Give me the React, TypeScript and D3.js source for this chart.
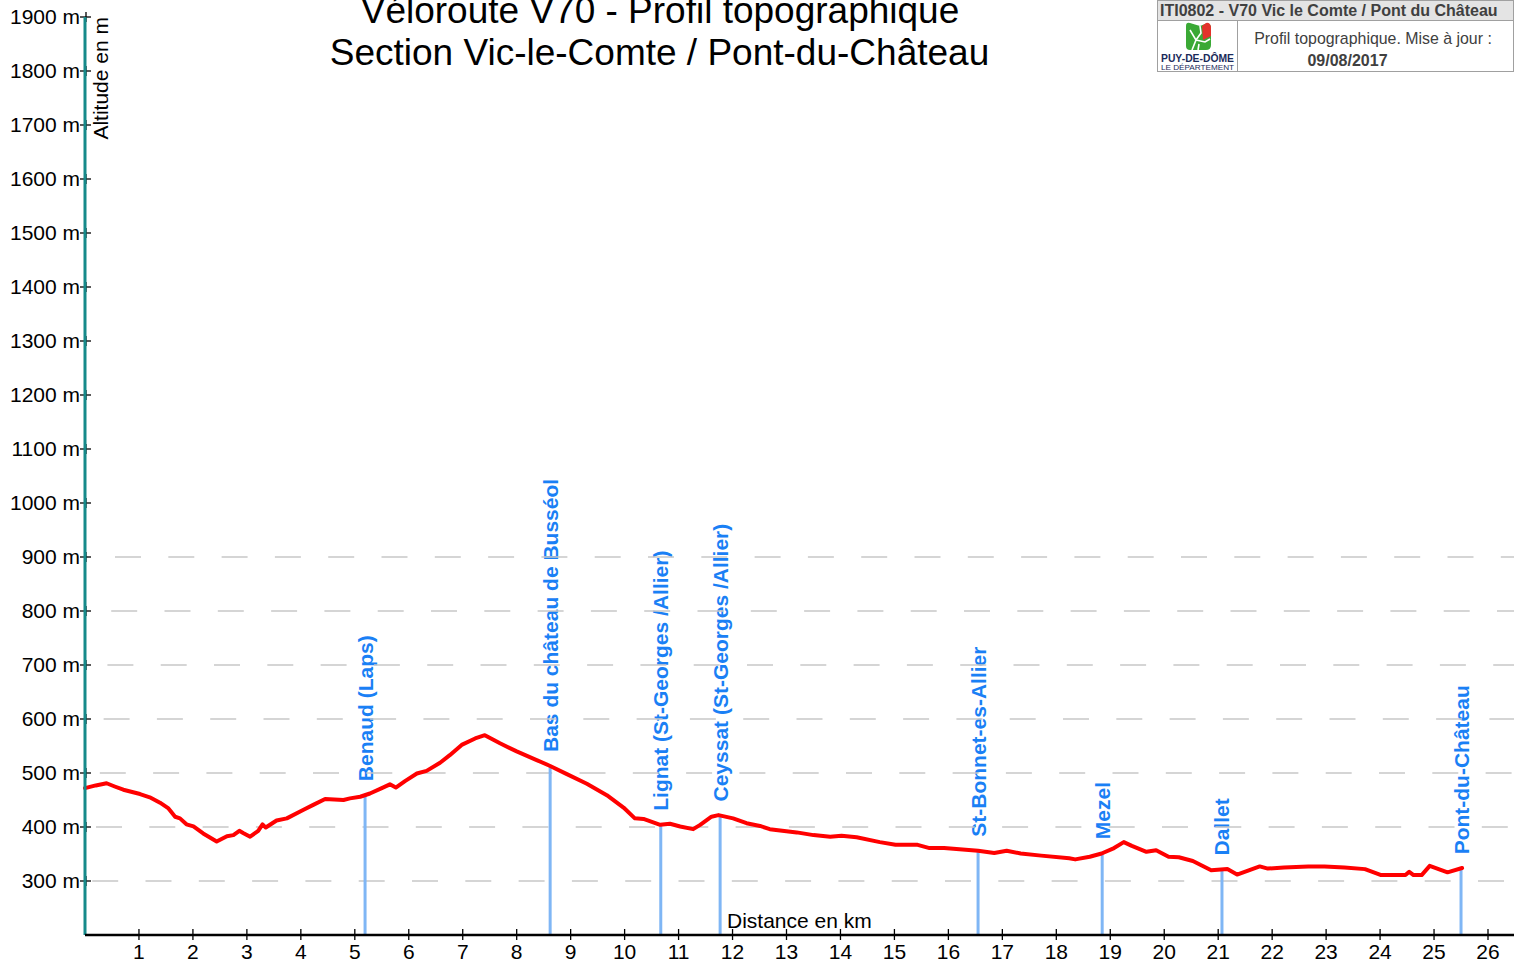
import React from "react";
import * as d3 from "d3";

const TITLE_LINE1 = "Véloroute V70 - Profil topographique";
const TITLE_LINE2 = "Section Vic-le-Comte / Pont-du-Château";
const HEADER_CODE = "ITI0802 - V70 Vic le Comte / Pont du Château";
const HEADER_TEXT = "Profil topographique. Mise à jour :";
const HEADER_DATE = "09/08/2017";

const distanceKm = [
  0.0, 0.2, 0.4, 0.55, 0.71, 1.02, 1.2, 1.39, 1.54, 1.67, 1.76, 1.88, 2.01, 2.19, 2.44, 2.63,
  2.75, 2.86, 2.93, 3.06, 3.21, 3.29, 3.35, 3.55, 3.74, 4.05, 4.23, 4.45, 4.79, 4.91, 5.1,
  5.28, 5.5, 5.65, 5.76, 5.93, 6.15, 6.33, 6.58, 6.76, 6.98, 7.23, 7.41, 7.69, 8.0, 8.37,
  8.62, 8.93, 9.3, 9.67, 9.98, 10.19, 10.35, 10.66, 10.84, 11.03, 11.27, 11.4, 11.61, 11.74,
  12.01, 12.26, 12.51, 12.69, 13.19, 13.5, 13.81, 14.02, 14.3, 14.73, 15.02, 15.43, 15.65,
  15.92, 16.55, 16.85, 17.08, 17.34, 17.72, 18.24, 18.35, 18.62, 18.84, 19.07, 19.25, 19.4,
  19.67, 19.85, 20.08, 20.27, 20.53, 20.87, 21.17, 21.35, 21.77, 21.92, 22.22, 22.67, 22.97,
  23.34, 23.72, 24.02, 24.47, 24.54, 24.62, 24.77, 24.92, 25.25, 25.52,
];
const altitudeM = [
  472, 477, 481, 475, 469, 461, 455, 445, 435, 419, 416, 405, 401, 388, 373, 383,
  385, 393, 389, 382, 393, 405, 399, 412, 416, 432, 441, 452, 450, 453, 456,
  462, 472, 479, 473, 485, 499, 504, 519, 533, 552, 564, 570, 555, 540, 524,
  513, 498, 480, 459, 436, 416, 415, 404, 406, 401, 396, 404, 419, 422,
  416, 407, 402, 396, 390, 385, 382, 384, 381, 372, 367, 367, 361,
  361, 356, 352, 356, 351, 347, 342, 340, 345, 351, 361, 372, 365,
  354, 357, 345, 344, 337, 320, 322, 312, 327, 323, 325, 327, 327,
  325, 322, 311, 311, 317, 311, 311, 328, 316, 324,
];

const markerNames = [
  "Benaud (Laps)",
  "Bas du château de Busséol",
  "Lignat (St-Georges /Allier)",
  "Ceyssat (St-Georges /Allier)",
  "St-Bonnet-es-Allier",
  "Mezel",
  "Dallet",
  "Pont-du-Château",
];
const markerKm = [5.19, 8.62, 10.67, 11.77, 16.55, 18.85, 21.07, 25.5];

const yTickValues = [300, 400, 500, 600, 700, 800, 900, 1000, 1100, 1200, 1300, 1400, 1500, 1600, 1700, 1800, 1900];
const gridValues = [300, 400, 500, 600, 700, 800, 900];
const xTickValues = d3.range(1, 27);

const W = 1514;
const H = 962;
const FONT = "Arial, 'Liberation Sans', Helvetica, sans-serif";

export default function App() {
  const x = d3.scaleLinear().domain([0, 26]).range([85, 1488]);
  const y = d3.scaleLinear().domain([200, 1900]).range([935, 17]);
  const pts: [number, number][] = distanceKm.map((d, i) => [d, altitudeM[i]]);
  const line = d3
    .line<[number, number]>()
    .x((d) => x(d[0]))
    .y((d) => y(d[1]));
  const altAt = (km: number) => {
    const i = d3.bisectLeft(distanceKm, km);
    if (i <= 0) return altitudeM[0];
    if (i >= distanceKm.length) return altitudeM[altitudeM.length - 1];
    const t = (km - distanceKm[i - 1]) / (distanceKm[i] - distanceKm[i - 1]);
    return altitudeM[i - 1] + t * (altitudeM[i] - altitudeM[i - 1]);
  };
  const axisY = y(200);
  const axisX = x(0);

  return (
    <div style={{ position: "absolute", left: 0, top: 0, width: W, height: H, background: "#fff" }}>
      <svg width={W} height={H} style={{ display: "block", fontFamily: FONT }}>
        <rect x={0} y={0} width={W} height={H} fill="#fff" />

        {/* title */}
        <text x={660} y={23} textAnchor="middle" fontSize={37} fill="#000">{TITLE_LINE1}</text>
        <text x={659.5} y={65} textAnchor="middle" fontSize={37} fill="#000">{TITLE_LINE2}</text>

        {/* header box */}
        <g>
          <rect x={1157.5} y={0.5} width={356} height={71} fill="#fff" stroke="#a0a0a0" strokeWidth={1} />
          <rect x={1157.5} y={0.5} width={356} height={20} fill="#e4e4e4" stroke="#a0a0a0" strokeWidth={1} />
          <line x1={1237.5} x2={1237.5} y1={20.5} y2={71.5} stroke="#a0a0a0" strokeWidth={1} />
          <text x={1160} y={16} fontSize={16} fontWeight="bold" fill="#404040">{HEADER_CODE}</text>
          <text x={1373} y={44} textAnchor="middle" fontSize={15.9} fill="#404040">{HEADER_TEXT}</text>
          <text x={1347.5} y={66} textAnchor="middle" fontSize={16} fontWeight="bold" fill="#404040">{HEADER_DATE}</text>
          {/* logo */}
          <g>
            <path d="M1186 26 Q1186 22 1190 23 L1200 26 L1205 24 Q1210 22 1211 27 L1211 45 Q1211 50 1206 50 L1190 50 Q1186 50 1186 46 Z" fill="#3aa935" />
            <path d="M1202 26 L1206 23 Q1210 22 1211 27 L1211 36 L1203 40 Z" fill="#e3322b" />
            <path d="M1192 50 L1196 40 L1190 30 M1196 40 L1201 33 L1200 26 M1196 40 L1205 42 L1210 39 M1198 50 L1199 44" fill="none" stroke="#fff" strokeWidth={1.6} />
            <text x={1197.5} y={62} textAnchor="middle" fontSize={10.5} fontWeight="bold" fill="#1a2a5a" textLength={73} lengthAdjust="spacingAndGlyphs">PUY-DE-DÔME</text>
            <text x={1197.5} y={69.5} textAnchor="middle" fontSize={6.5} fill="#1a2a5a" textLength={73} lengthAdjust="spacingAndGlyphs">LE DÉPARTEMENT</text>
          </g>
        </g>

        {/* marker labels */}
        {markerKm.map((km, i) => {
          const mx = x(km);
          const top = y(altAt(km)) - 14;
          return (
            <text
              key={"ml" + i}
              transform={`translate(${mx + 7.5},${top}) rotate(-90)`}
              fontSize={21}
              fontWeight="bold"
              fill="#1a80f5"
            >
              {markerNames[i]}
            </text>
          );
        })}

        {/* grid lines */}
        {gridValues.map((v, i) => (
          <line
            key={"g" + v}
            x1={85}
            x2={W}
            y1={y(v)}
            y2={y(v)}
            stroke="#c8c8c8"
            strokeWidth={1.5}
            strokeDasharray="26 27.3"
            strokeDashoffset={-(30 - (gridValues.length - 1 - i) * 3.8) + 53.3}
          />
        ))}

        {/* marker lines */}
        {markerKm.map((km, i) => (
          <line
            key={"m" + i}
            x1={x(km)}
            x2={x(km)}
            y1={axisY}
            y2={y(altAt(km))}
            stroke="#7fb6f5"
            strokeWidth={3}
          />
        ))}

        {/* profile */}
        <path d={line(pts) || ""} fill="none" stroke="#ff0000" strokeWidth={4} strokeLinejoin="round" strokeLinecap="round" />

        {/* y ticks */}
        {yTickValues.map((v) => (
          <g key={"yt" + v}>
            <line x1={80} x2={91} y1={y(v)} y2={y(v)} stroke="#000" strokeWidth={1.3} />
            <line x1={86} x2={86} y1={y(v) - 5} y2={y(v) + 5} stroke="#000" strokeWidth={1.3} />
            <text x={80} y={y(v) + 7} textAnchor="end" fontSize={21} fill="#000">{`${v} m`}</text>
          </g>
        ))}
        <line x1={axisX} x2={axisX} y1={17} y2={axisY} stroke="#168a8a" strokeWidth={3} />
        <text transform={`translate(108,17) rotate(-90)`} textAnchor="end" fontSize={21} fill="#000">Altitude en m</text>

        {/* x axis */}
        <line x1={axisX} x2={W} y1={axisY} y2={axisY} stroke="#000" strokeWidth={2.5} />
        {xTickValues.map((v) => (
          <g key={"xt" + v}>
            <line x1={x(v)} x2={x(v)} y1={axisY - 6} y2={axisY + 5} stroke="#000" strokeWidth={1.3} />
            <text x={x(v)} y={959} textAnchor="middle" fontSize={21} fill="#000">{v}</text>
          </g>
        ))}
        <text x={727} y={928} fontSize={21} fill="#000">Distance en km</text>
      </svg>
    </div>
  );
}
